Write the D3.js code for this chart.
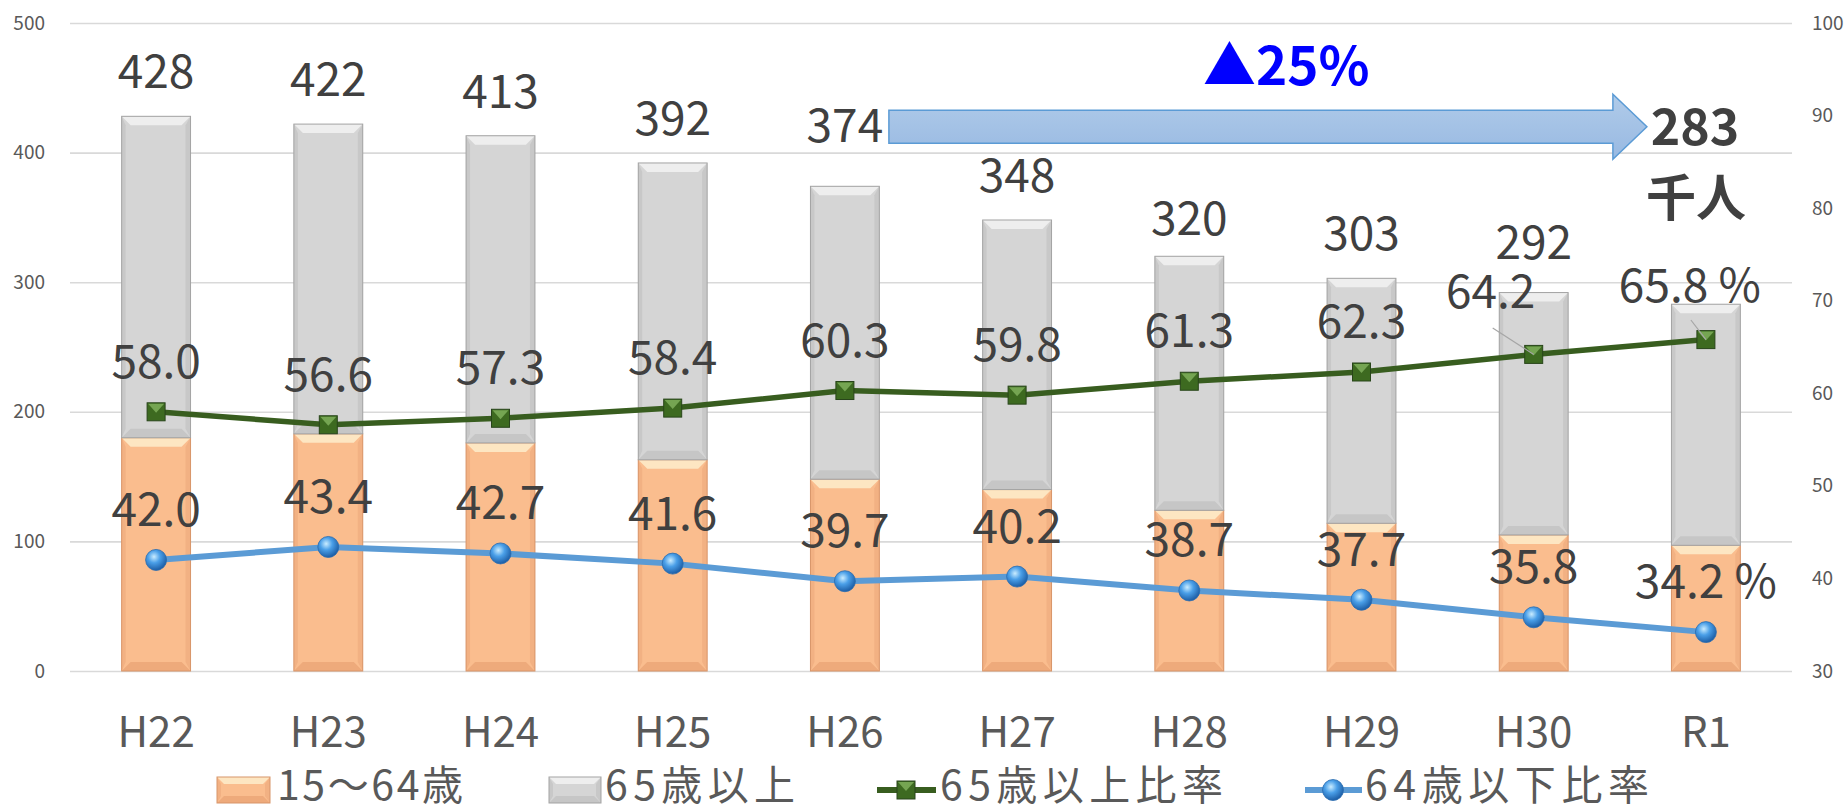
<!DOCTYPE html>
<html>
<head>
<meta charset="utf-8">
<script src="https://cdn.jsdelivr.net/npm/d3@7"></script>
<style>
  body { margin: 0; background: #fff; }
  svg { display: block; }
  text { font-family: "Noto Sans CJK JP", "Noto Sans", sans-serif; }
</style>
</head>
<body>
<svg width="1847" height="809"></svg>
<script>
// data
const years = ["H22", "H23", "H24", "H25", "H26", "H27", "H28", "H29", "H30", "R1"];
const pop15to64 = [180, 183, 176, 163, 148, 140, 124, 114, 105, 97];
const pop65plus = [248, 239, 237, 229, 226, 208, 196, 189, 187, 186];
const totals = [428, 422, 413, 392, 374, 348, 320, 303, 292, 283];
const rate65plus = [58.0, 56.6, 57.3, 58.4, 60.3, 59.8, 61.3, 62.3, 64.2, 65.8];
const rate64under = [42.0, 43.4, 42.7, 41.6, 39.7, 40.2, 38.7, 37.7, 35.8, 34.2];
const leftTicks = [0, 100, 200, 300, 400, 500];
const rightTicks = [30, 40, 50, 60, 70, 80, 90, 100];
const legendLabels = ["15〜64歳", "65歳以上", "65歳以上比率", "64歳以下比率"];

const svg = d3.select("svg");
const plotL = 70, plotR = 1792, plotT = 23, plotB = 671;

const x = d3.scaleBand().domain(years).range([plotL, plotR])
  .paddingInner(0.6).paddingOuter(0.3);
const bw = x.bandwidth();
const cx = d => x(d) + bw / 2;
const yL = d3.scaleLinear().domain([0, 500]).range([plotB, plotT]);
const yR = d3.scaleLinear().domain([30, 100]).range([plotB, plotT]);

// gradients
const defs = svg.append("defs");
const arrowGrad = defs.append("linearGradient").attr("id", "arrowGrad")
  .attr("x1", 0).attr("y1", 0).attr("x2", 0).attr("y2", 1);
arrowGrad.append("stop").attr("offset", "0%").attr("stop-color", "#b0cbe9");
arrowGrad.append("stop").attr("offset", "100%").attr("stop-color", "#98b9e2");
const ball = defs.append("radialGradient").attr("id", "ball")
  .attr("cx", "40%").attr("cy", "35%").attr("r", "65%");
ball.append("stop").attr("offset", "0%").attr("stop-color", "#c9ecff");
ball.append("stop").attr("offset", "45%").attr("stop-color", "#4a9fe8");
ball.append("stop").attr("offset", "100%").attr("stop-color", "#1d5ea6");

// gridlines + left axis
const gL = svg.append("g").attr("transform", `translate(${plotL},0)`)
  .call(d3.axisLeft(yL).tickValues(leftTicks).tickSize(-(plotR - plotL)).tickPadding(25));
gL.select(".domain").remove();
gL.selectAll(".tick line").attr("stroke", "#d9d9d9").attr("stroke-width", 1.6);
gL.selectAll(".tick text").attr("fill", "#595959").attr("font-size", 19);

// right axis
const gR = svg.append("g").attr("transform", `translate(${plotR},0)`)
  .call(d3.axisRight(yR).tickValues(rightTicks).tickSize(0).tickPadding(20));
gR.select(".domain").remove();
gR.selectAll(".tick text").attr("fill", "#595959").attr("font-size", 19);

// x axis
const gX = svg.append("g").attr("transform", `translate(0,${plotB})`)
  .call(d3.axisBottom(x).tickSize(0));
gX.select(".domain").remove();
gX.selectAll(".tick text").attr("fill", "#595959").attr("font-size", 42)
  .attr("dy", null).attr("y", 76);

// bevelled block
const palettes = {
  orange: { base: "#fabd8e", topC: "#fde6c2", bot: "#eeaa7b", side: "#f2b183", edge: "#d8956a" },
  gray: { base: "#d5d5d5", topC: "#eeeeee", bot: "#c6c6c6", side: "#c8c8c8", edge: "#a3a3a3" }
};
function bevel(g, x0, y0, w, h, p, b) {
  const x1 = x0 + w, y1 = y0 + h;
  const bb = Math.min(b, h / 2);
  g.append("rect").attr("x", x0).attr("y", y0).attr("width", w).attr("height", h)
    .attr("fill", p.base);
  g.append("polygon").attr("fill", p.side)
    .attr("points", [[x0, y0], [x0 + 4, y0 + bb], [x0 + 4, y1 - bb], [x0, y1]].join(" "));
  g.append("polygon").attr("fill", p.side)
    .attr("points", [[x1, y0], [x1 - 5, y0 + bb], [x1 - 5, y1 - bb], [x1, y1]].join(" "));
  g.append("polygon").attr("fill", p.topC)
    .attr("points", [[x0, y0], [x1, y0], [x1 - bb, y0 + bb], [x0 + bb, y0 + bb]].join(" "));
  g.append("polygon").attr("fill", p.bot)
    .attr("points", [[x0, y1], [x1, y1], [x1 - bb, y1 - bb], [x0 + bb, y1 - bb]].join(" "));
  g.append("rect").attr("x", x0).attr("y", y0).attr("width", w).attr("height", h)
    .attr("fill", "none").attr("stroke", p.edge).attr("stroke-width", 1);
}

// stacked bars
const rows = years.map((yr, i) => ({ year: yr, young: pop15to64[i], old: pop65plus[i] }));
const stacked = d3.stack().keys(["young", "old"])(rows);
const barG = svg.append("g");
stacked.forEach(layer => {
  const p = layer.key === "young" ? palettes.orange : palettes.gray;
  layer.forEach(d => {
    const y0 = yL(d[1]), y1 = yL(d[0]);
    bevel(barG, x(d.data.year), y0, bw, y1 - y0, p, 9);
  });
});

// lines
const rateLine = d3.line().x((d, i) => cx(years[i])).y(d => yR(d));
svg.append("path").attr("d", rateLine(rate65plus)).attr("fill", "none")
  .attr("stroke", "#385d1f").attr("stroke-width", 5.5);
svg.append("path").attr("d", rateLine(rate64under)).attr("fill", "none")
  .attr("stroke", "#5b9bd5").attr("stroke-width", 6);

function squareMarker(g, px, py, s) {
  g.append("rect").attr("x", px - s / 2).attr("y", py - s / 2).attr("width", s).attr("height", s)
    .attr("fill", "#3d6a20").attr("stroke", "#28451a").attr("stroke-width", 1);
  g.append("polygon").attr("fill", "#75a552")
    .attr("points", [[px - s / 2 + 1, py - s / 2 + 1], [px + s / 2 - 1, py - s / 2 + 1], [px, py + 1]].join(" "));
}
function ballMarker(g, px, py, r) {
  g.append("circle").attr("cx", px).attr("cy", py).attr("r", r)
    .attr("fill", "url(#ball)").attr("stroke", "#2a6cb0").attr("stroke-width", 0.8);
}
const markG = svg.append("g");
rate65plus.forEach((v, i) => squareMarker(markG, cx(years[i]), yR(v), 18));
rate64under.forEach((v, i) => ballMarker(markG, cx(years[i]), yR(v), 10.5));

// arrow annotation
const ay = yL(420), ax0 = cx("H26") + 44, ax1 = cx("R1") - 59;
svg.append("path")
  .attr("d", `M${ax0},${ay - 16.5}L${ax1 - 34},${ay - 16.5}L${ax1 - 34},${ay - 32.5}L${ax1},${ay}` +
    `L${ax1 - 34},${ay + 32.5}L${ax1 - 34},${ay + 16.5}L${ax0},${ay + 16.5}Z`)
  .attr("fill", "url(#arrowGrad)").attr("stroke", "#5b9bd5").attr("stroke-width", 1.5);
svg.append("text").attr("x", 1203).attr("y", 85).attr("fill", "#0000ff")
  .attr("font-size", 53).attr("font-weight", "bold").text("▲25%");

// labels
const lab = svg.append("g").attr("fill", "#404040").attr("font-size", 46).attr("text-anchor", "middle");
const totalOffset = { H26: 44, H28: 21, H30: 34 };
totals.forEach((v, i) => {
  const yr = years[i];
  if (yr === "R1") return;
  lab.append("text").attr("x", cx(yr)).attr("y", yL(v) - (totalOffset[yr] || 28)).text(v);
});
lab.append("text").attr("x", cx("R1") - 11).attr("y", 145).attr("font-weight", "bold")
  .attr("font-size", 50).text(totals[9]);
lab.append("text").attr("x", cx("R1") - 10).attr("y", 216).attr("font-weight", "bold")
  .attr("font-size", 50).text("千人");

rate65plus.forEach((v, i) => {
  const yr = years[i];
  if (yr === "H30" || yr === "R1") return;
  lab.append("text").attr("x", cx(yr)).attr("y", yR(v) - 34).text(v.toFixed(1));
});
lab.append("text").attr("x", cx("H30") - 43).attr("y", 308).text(rate65plus[8].toFixed(1));
lab.append("text").attr("x", cx("R1") - 16).attr("y", 302).text(rate65plus[9].toFixed(1) + " %");
const leader = svg.append("g").attr("stroke", "#a6a6a6").attr("stroke-width", 1.2);
leader.append("line").attr("x1", cx("H30") - 41).attr("y1", 328)
  .attr("x2", cx("H30")).attr("y2", yR(rate65plus[8]));
leader.append("line").attr("x1", cx("R1") - 15).attr("y1", 320)
  .attr("x2", cx("R1")).attr("y2", yR(rate65plus[9]));

rate64under.forEach((v, i) => {
  const yr = years[i];
  const t = yr === "R1" ? v.toFixed(1) + " %" : v.toFixed(1);
  lab.append("text").attr("x", cx(yr)).attr("y", yR(v) - 34).text(t);
});

// legend
const lg = svg.append("g");
const legY = 790, legBase = 800, legFont = 41, legText = "#595959";
bevel(lg, 217, 777, 53, 26, palettes.orange, 7);
lg.append("text").attr("x", 277).attr("y", legBase).attr("font-size", legFont).attr("fill", legText)
  .attr("textLength", 186).attr("lengthAdjust", "spacing").text(legendLabels[0]);
bevel(lg, 549, 777, 52, 26, palettes.gray, 7);
lg.append("text").attr("x", 605).attr("y", legBase).attr("font-size", legFont).attr("fill", legText)
  .attr("textLength", 190).attr("lengthAdjust", "spacing").text(legendLabels[1]);
lg.append("line").attr("x1", 877).attr("x2", 936).attr("y1", legY).attr("y2", legY)
  .attr("stroke", "#385d1f").attr("stroke-width", 6);
squareMarker(lg, 906, legY, 18);
lg.append("text").attr("x", 940).attr("y", legBase).attr("font-size", legFont).attr("fill", legText)
  .attr("textLength", 283).attr("lengthAdjust", "spacing").text(legendLabels[2]);
lg.append("line").attr("x1", 1305).attr("x2", 1362).attr("y1", legY).attr("y2", legY)
  .attr("stroke", "#5b9bd5").attr("stroke-width", 6);
ballMarker(lg, 1333, legY, 10.5);
lg.append("text").attr("x", 1365).attr("y", legBase).attr("font-size", legFont).attr("fill", legText)
  .attr("textLength", 284).attr("lengthAdjust", "spacing").text(legendLabels[3]);
</script>
</body>
</html>
